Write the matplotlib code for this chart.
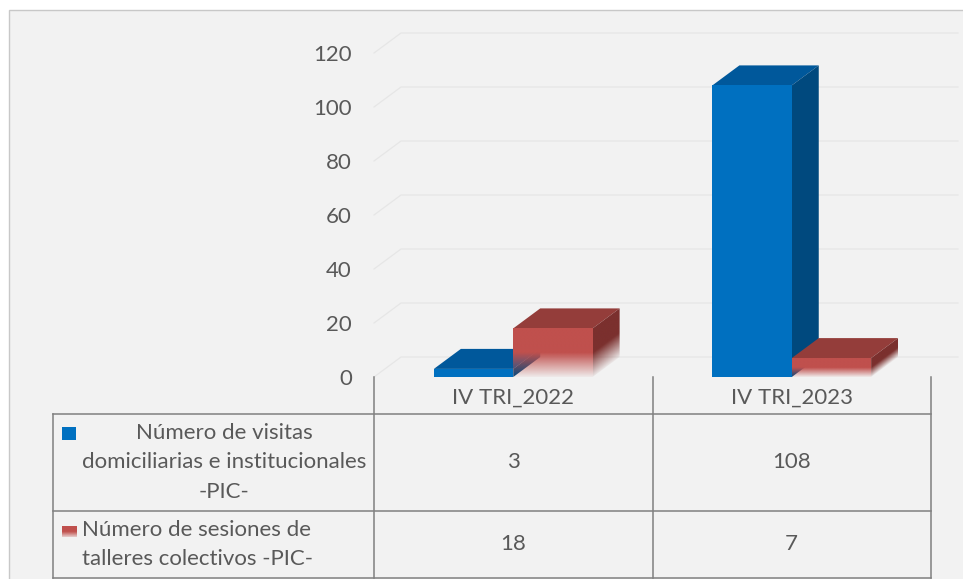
import matplotlib
matplotlib.use("Agg")
import matplotlib.pyplot as plt
import matplotlib.transforms as mtransforms
from matplotlib.patches import Polygon, Rectangle
import numpy as np

categories = ["IV TRI_2022", "IV TRI_2023"]
visitas = [3, 108]
sesiones = [18, 7]
yticks = [0, 20, 40, 60, 80, 100, 120]

W, H = 963, 579
TXT = "#595959"
LINE = "#808080"
plt.rcParams["font.family"] = ["Lato", "DejaVu Sans"]
FS = 16

fig = plt.figure(figsize=(W / 100, H / 100), dpi=100)
fig.patch.set_facecolor("white")

# pixel transform, y measured from the top
px = mtransforms.Affine2D().scale(1, -1).translate(0, H)

fig.add_artist(Rectangle((9, H + 5), W, -(H + 5 - 10), transform=px,
                         facecolor="#F2F2F2", edgecolor="#C8C8C8", lw=1, zorder=-5))

# plot area
X0, X1, Y0, Y1 = 374, 931, 377, 53
ax = fig.add_axes([X0 / W, (H - Y0) / H, (X1 - X0) / W, (Y0 - Y1) / H])
ax.set_xlim(0, len(categories))
ax.set_ylim(0, 120)
ax.axis("off")
ax.patch.set_alpha(0)

colw = (X1 - X0) / len(categories)
dx = 27 / colw                   # depth in category units
dy = 20 / ((Y0 - Y1) / 120)      # depth in value units
bw = 0.285

# back wall / side wall gridlines
for v in yticks:
    ax.plot([0, dx, len(categories) + dx], [v, v + dy, v + dy], color="#E6E6E6",
            lw=0.9, clip_on=False, zorder=1)

for v in yticks:
    ax.text(0, v, str(v), transform=mtransforms.offset_copy(ax.transData, fig=fig, x=-22, y=0, units="dots"),
            ha="right", va="center_baseline", fontsize=FS, color=TXT)


def fade_image(ax, poly, color, xs, ys, alpha_fn, z):
    gx = np.linspace(xs[0], xs[1], 60)
    gy = np.linspace(ys[0], ys[1], 200)
    XX, YY = np.meshgrid(gx, gy)
    rgba = np.zeros(XX.shape + (4,))
    rgba[..., :3] = matplotlib.colors.to_rgb(color)
    rgba[..., 3] = alpha_fn(XX, YY)
    im = ax.imshow(rgba, extent=(xs[0], xs[1], ys[0], ys[1]), origin="lower",
                   aspect="auto", zorder=z, interpolation="bilinear")
    im.set_clip_path(poly)


def grad(t):
    # solid on the upper half, fading out towards the floor
    return np.clip(0.05 + 0.95 * (t / 0.5), 0.05, 1.0)


def bar3d(ax, x0, v, cols, z, fade=False):
    front, top, side = cols
    x1 = x0 + bw
    pf = [(x0, 0), (x1, 0), (x1, v), (x0, v)]
    pt = [(x0, v), (x1, v), (x1 + dx, v + dy), (x0 + dx, v + dy)]
    ps = [(x1, 0), (x1 + dx, dy), (x1 + dx, v + dy), (x1, v)]
    ax.add_patch(Polygon(pt, closed=True, facecolor=top, edgecolor="none", zorder=z))
    if not fade:
        ax.add_patch(Polygon(ps, closed=True, facecolor=side, edgecolor="none", zorder=z))
        ax.add_patch(Polygon(pf, closed=True, facecolor=front, edgecolor="none", zorder=z))
        return
    cs = Polygon(ps, closed=True, facecolor="none", edgecolor="none", zorder=z)
    ax.add_patch(cs)
    fade_image(ax, cs, side, (x1, x1 + dx), (0, v + dy),
               lambda X, Y: grad((Y - dy * (X - x1) / dx) / v), z)
    cf = Polygon(pf, closed=True, facecolor="none", edgecolor="none", zorder=z)
    ax.add_patch(cf)
    fade_image(ax, cf, front, (x0, x1), (0, v), lambda X, Y: grad(Y / v), z)


blue = ("#0070C0", "#00589B", "#00497E")
red = ("#C0504D", "#943D3A", "#7B302E")
z = 3
for i in range(len(categories)):
    c = i + 0.5
    bar3d(ax, c - bw, visitas[i], blue, z)
    bar3d(ax, c, sesiones[i], red, z + 1, fade=True)
    z += 2
ax.set_xlim(0, len(categories))
ax.set_ylim(0, 120)

# data table
lk = dict(color=LINE, lw=1.1, transform=px, clip_on=False)
L, R1, R2, B = 53, 414, 511, 578
cols_x = [X0 + k * colw for k in range(len(categories) + 1)]
for xv in cols_x:
    fig.add_artist(plt.Line2D([xv, xv], [Y0, B], **lk))
fig.add_artist(plt.Line2D([L, L], [R1, B], **lk))
for yv in (R1, R2, B):
    fig.add_artist(plt.Line2D([L, X1], [yv, yv], **lk))

for i, cat in enumerate(categories):
    cx = X0 + (i + 0.5) * colw
    fig.text(cx, (Y0 + R1) / 2 + 2, cat, transform=px, ha="center", va="center", fontsize=FS, color=TXT)
    fig.text(cx, (R1 + R2) / 2, str(visitas[i]), transform=px, ha="center", va="center", fontsize=FS, color=TXT)
    fig.text(cx, (R2 + B) / 2, str(sesiones[i]), transform=px, ha="center", va="center", fontsize=FS, color=TXT)

fig.text(224, (R1 + R2) / 2, "Número de visitas\ndomiciliarias e institucionales\n-PIC-", transform=px,
         ha="center", va="center", multialignment="center", fontsize=FS, color=TXT, linespacing=1.6)
fig.text(82, (R2 + B) / 2, "Número de sesiones de\ntalleres colectivos -PIC-", transform=px,
         ha="left", va="center", fontsize=FS, color=TXT, linespacing=1.6)

# legend keys
fig.add_artist(Rectangle((62, 440), 14, -13, transform=px, facecolor=blue[0], edgecolor="none"))
kax = fig.add_axes([62 / W, (H - 537) / H, 14 / W, 11 / H])
kax.axis("off")
g = np.zeros((40, 1, 4))
g[..., :3] = matplotlib.colors.to_rgb(red[0])
g[:, 0, 3] = grad(np.linspace(0, 1, 40) * 0.8 + 0.1)
kax.imshow(g, origin="lower", aspect="auto", extent=(0, 1, 0, 1))

fig.savefig("out.png", dpi=100, facecolor=fig.get_facecolor())
